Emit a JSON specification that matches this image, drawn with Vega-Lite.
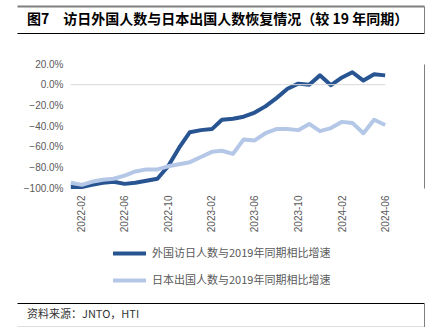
{
  "$schema": "https://vega.github.io/schema/vega-lite/v6.json",
  "padding": {"left": 17, "top": 6, "right": 10, "bottom": 0},
  "background": "white",
  "config": {
    "font": "Noto Sans CJK SC",
    "view": {"stroke": null},
    "axis": {"labelFont": "Liberation Sans", "labelColor": "#595959", "labelFontSize": 10},
    "axisY": {"labelOverlap": false},
    "legend": {"layout": {"bottom": {"anchor": "middle"}}}
  },
  "spacing": 14,
  "resolve": {"scale": {"color": "independent"}, "legend": {"color": "independent"}},
  "vconcat": [
    {
      "spacing": 26,
      "resolve": {"scale": {"color": "independent"}, "legend": {"color": "independent"}},
      "vconcat": [
        {
          "width": 407,
          "height": 27,
          "data": {"values": [{"t": "图7　访日外国人数与日本出国人数恢复情况（较 19 年同期）", "p": 0.0246, "q": 0.5}]},
          "resolve": {"axis": {"x": "independent"}},
          "layer": [
            {
              "mark": {"type": "text", "fontWeight": "bold", "fontSize": 14, "color": "#000000", "align": "left", "baseline": "middle"},
              "encoding": {
                "text": {"field": "t"},
                "x": {"field": "p", "type": "quantitative", "scale": {"domain": [0, 1]},
                      "axis": {"orient": "bottom", "title": null, "labels": false, "ticks": false, "grid": false, "domain": true, "domainColor": "#000000", "domainWidth": 1}},
                "y": {"field": "q", "type": "quantitative", "scale": {"domain": [0, 1]},
                      "axis": {"orient": "right", "title": null, "labels": false, "ticks": false, "grid": false, "domain": true, "domainColor": "#7f7f7f", "domainWidth": 1}}
              }
            },
            {
              "mark": {"type": "point", "opacity": 0},
              "encoding": {
                "x": {"field": "p", "type": "quantitative",
                      "axis": {"orient": "top", "title": null, "labels": false, "ticks": false, "grid": false, "domain": true, "domainColor": "#7f7f7f", "domainWidth": 2}},
                "y": {"field": "q", "type": "quantitative"}
              }
            }
          ]
        },
        {
          "width": 407,
          "height": 124,
          "resolve": {"axis": {"y": "independent"}},
          "layer": [
            {
              "data": {"values": [
                {"m": "2022-01", "s": "外国访日人数与2019年同期相比增速", "v": -99},
                {"m": "2022-02", "s": "外国访日人数与2019年同期相比增速", "v": -99},
                {"m": "2022-03", "s": "外国访日人数与2019年同期相比增速", "v": -97},
                {"m": "2022-04", "s": "外国访日人数与2019年同期相比增速", "v": -95},
                {"m": "2022-05", "s": "外国访日人数与2019年同期相比增速", "v": -94},
                {"m": "2022-06", "s": "外国访日人数与2019年同期相比增速", "v": -96},
                {"m": "2022-07", "s": "外国访日人数与2019年同期相比增速", "v": -95},
                {"m": "2022-08", "s": "外国访日人数与2019年同期相比增速", "v": -93},
                {"m": "2022-09", "s": "外国访日人数与2019年同期相比增速", "v": -91},
                {"m": "2022-10", "s": "外国访日人数与2019年同期相比增速", "v": -79},
                {"m": "2022-11", "s": "外国访日人数与2019年同期相比增速", "v": -61},
                {"m": "2022-12", "s": "外国访日人数与2019年同期相比增速", "v": -46},
                {"m": "2023-01", "s": "外国访日人数与2019年同期相比增速", "v": -44},
                {"m": "2023-02", "s": "外国访日人数与2019年同期相比增速", "v": -43},
                {"m": "2023-03", "s": "外国访日人数与2019年同期相比增速", "v": -34},
                {"m": "2023-04", "s": "外国访日人数与2019年同期相比增速", "v": -33},
                {"m": "2023-05", "s": "外国访日人数与2019年同期相比增速", "v": -31},
                {"m": "2023-06", "s": "外国访日人数与2019年同期相比增速", "v": -27},
                {"m": "2023-07", "s": "外国访日人数与2019年同期相比增速", "v": -21},
                {"m": "2023-08", "s": "外国访日人数与2019年同期相比增速", "v": -13},
                {"m": "2023-09", "s": "外国访日人数与2019年同期相比增速", "v": -4},
                {"m": "2023-10", "s": "外国访日人数与2019年同期相比增速", "v": 1},
                {"m": "2023-11", "s": "外国访日人数与2019年同期相比增速", "v": 0},
                {"m": "2023-12", "s": "外国访日人数与2019年同期相比增速", "v": 9},
                {"m": "2024-01", "s": "外国访日人数与2019年同期相比增速", "v": -0.5},
                {"m": "2024-02", "s": "外国访日人数与2019年同期相比增速", "v": 7},
                {"m": "2024-03", "s": "外国访日人数与2019年同期相比增速", "v": 12},
                {"m": "2024-04", "s": "外国访日人数与2019年同期相比增速", "v": 4},
                {"m": "2024-05", "s": "外国访日人数与2019年同期相比增速", "v": 10},
                {"m": "2024-06", "s": "外国访日人数与2019年同期相比增速", "v": 9},
                {"m": "2022-01", "s": "日本出国人数与2019年同期相比增速", "v": -95},
                {"m": "2022-02", "s": "日本出国人数与2019年同期相比增速", "v": -97},
                {"m": "2022-03", "s": "日本出国人数与2019年同期相比增速", "v": -94},
                {"m": "2022-04", "s": "日本出国人数与2019年同期相比增速", "v": -92},
                {"m": "2022-05", "s": "日本出国人数与2019年同期相比增速", "v": -91},
                {"m": "2022-06", "s": "日本出国人数与2019年同期相比增速", "v": -88},
                {"m": "2022-07", "s": "日本出国人数与2019年同期相比增速", "v": -84},
                {"m": "2022-08", "s": "日本出国人数与2019年同期相比增速", "v": -82},
                {"m": "2022-09", "s": "日本出国人数与2019年同期相比增速", "v": -82},
                {"m": "2022-10", "s": "日本出国人数与2019年同期相比增速", "v": -79},
                {"m": "2022-11", "s": "日本出国人数与2019年同期相比增速", "v": -77},
                {"m": "2022-12", "s": "日本出国人数与2019年同期相比增速", "v": -75},
                {"m": "2023-01", "s": "日本出国人数与2019年同期相比增速", "v": -70},
                {"m": "2023-02", "s": "日本出国人数与2019年同期相比增速", "v": -65},
                {"m": "2023-03", "s": "日本出国人数与2019年同期相比增速", "v": -64},
                {"m": "2023-04", "s": "日本出国人数与2019年同期相比增速", "v": -67},
                {"m": "2023-05", "s": "日本出国人数与2019年同期相比增速", "v": -53},
                {"m": "2023-06", "s": "日本出国人数与2019年同期相比增速", "v": -54},
                {"m": "2023-07", "s": "日本出国人数与2019年同期相比增速", "v": -47},
                {"m": "2023-08", "s": "日本出国人数与2019年同期相比增速", "v": -43},
                {"m": "2023-09", "s": "日本出国人数与2019年同期相比增速", "v": -43},
                {"m": "2023-10", "s": "日本出国人数与2019年同期相比增速", "v": -44},
                {"m": "2023-11", "s": "日本出国人数与2019年同期相比增速", "v": -38},
                {"m": "2023-12", "s": "日本出国人数与2019年同期相比增速", "v": -45},
                {"m": "2024-01", "s": "日本出国人数与2019年同期相比增速", "v": -42},
                {"m": "2024-02", "s": "日本出国人数与2019年同期相比增速", "v": -36},
                {"m": "2024-03", "s": "日本出国人数与2019年同期相比增速", "v": -37},
                {"m": "2024-04", "s": "日本出国人数与2019年同期相比增速", "v": -47},
                {"m": "2024-05", "s": "日本出国人数与2019年同期相比增速", "v": -34},
                {"m": "2024-06", "s": "日本出国人数与2019年同期相比增速", "v": -39}
              ]},
              "mark": {"type": "line", "strokeWidth": 4, "strokeJoin": "round"},
              "encoding": {
                "x": {
                  "field": "m", "type": "temporal",
                  "scale": {"type": "utc", "nice": false,
                            "domain": [{"year": 2021, "month": 8, "date": 3, "utc": true}, {"year": 2024, "month": 9, "date": 18, "utc": true}]},
                  "axis": {
                    "title": null, "domain": false, "ticks": false, "grid": false, "labelAngle": -90, "labelPadding": 7,
                    "format": "%Y-%m", "labelOverlap": false, "labelFlush": false,
                    "values": [
                      {"year": 2022, "month": 2, "utc": true}, {"year": 2022, "month": 6, "utc": true},
                      {"year": 2022, "month": 10, "utc": true}, {"year": 2023, "month": 2, "utc": true},
                      {"year": 2023, "month": 6, "utc": true}, {"year": 2023, "month": 10, "utc": true},
                      {"year": 2024, "month": 2, "utc": true}, {"year": 2024, "month": 6, "utc": true}
                    ]
                  }
                },
                "y": {
                  "field": "v", "type": "quantitative",
                  "scale": {"domain": [-100, 20], "nice": false, "zero": false},
                  "axis": {
                    "orient": "left", "offset": -54,
                    "title": null, "domain": false, "ticks": false, "grid": false, "labelOverlap": false,
                    "values": [-100, -80, -60, -40, -20, 0, 20],
                    "labelExpr": "format(datum.value, '.1f') + '%'",
                    "labelPadding": 8
                  }
                },
                "color": {
                  "field": "s", "type": "nominal",
                  "scale": {"domain": ["外国访日人数与2019年同期相比增速", "日本出国人数与2019年同期相比增速"], "range": ["#285592", "#B4C7E7"]},
                  "legend": {
                    "title": null, "orient": "bottom", "direction": "vertical",
                    "symbolType": "stroke", "symbolStrokeWidth": 4, "symbolSize": 1089,
                    "labelFontSize": 11, "labelColor": "#595959", "labelFont": "Noto Sans CJK SC", "labelLimit": 400,
                    "rowPadding": -18, "offset": 3, "labelOffset": 4
                  }
                }
              }
            },
            {
              "data": {"values": [{"a": "2022-01", "b": "2024-06", "z": 0}]},
              "mark": {"type": "rule", "color": "#d9d9d9", "strokeWidth": 1},
              "encoding": {
                "x": {"field": "a", "type": "temporal"},
                "x2": {"field": "b"},
                "y": {"field": "z", "type": "quantitative",
                      "axis": {"orient": "right", "title": null, "labels": false, "ticks": false, "grid": false, "domain": true, "domainColor": "#7f7f7f", "domainWidth": 1}}
              }
            }
          ]
        }
      ]
    },
    {
      "width": 407,
      "height": 24,
      "data": {"values": [{"t": "资料来源：JNTO，HTI", "p": 0.0246, "q": 0.5}]},
      "resolve": {"axis": {"x": "independent"}},
      "layer": [
        {
          "mark": {"type": "text", "fontSize": 11, "color": "#333333", "align": "left", "baseline": "middle"},
          "encoding": {
            "text": {"field": "t"},
            "x": {"field": "p", "type": "quantitative", "scale": {"domain": [0, 1]},
                  "axis": {"orient": "bottom", "title": null, "labels": false, "ticks": false, "grid": false, "domain": true, "domainColor": "#7f7f7f", "domainWidth": 1.5}},
            "y": {"field": "q", "type": "quantitative", "scale": {"domain": [0, 1]},
                  "axis": {"orient": "right", "title": null, "labels": false, "ticks": false, "grid": false, "domain": true, "domainColor": "#7f7f7f", "domainWidth": 1}}
          }
        },
        {
          "mark": {"type": "point", "opacity": 0},
          "encoding": {
            "x": {"field": "p", "type": "quantitative",
                  "axis": {"orient": "top", "title": null, "labels": false, "ticks": false, "grid": false, "domain": true, "domainColor": "#000000", "domainWidth": 1}},
            "y": {"field": "q", "type": "quantitative"}
          }
        }
      ]
    }
  ]
}
